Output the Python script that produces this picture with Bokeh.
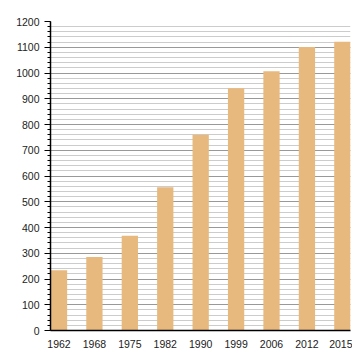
from bokeh.plotting import figure
from bokeh.models import Range1d, FixedTicker, SingleIntervalTicker, ColumnDataSource
from bokeh.embed import file_html
from bokeh.resources import INLINE

years = ["1962", "1968", "1975", "1982", "1990", "1999", "2006", "2012", "2015"]
values = [234, 285, 368, 556, 760, 941, 1007, 1101, 1121]
y_ticks_interval = 100

pos = list(range(len(years)))
src = ColumnDataSource(dict(x=pos, top=values))

p = figure(width=352, height=352, output_backend="svg", toolbar_location=None,
           x_range=Range1d(-0.24, len(years) - 1 + 0.23), y_range=Range1d(0, 1200),
           min_border_left=50, min_border_right=2, min_border_top=21, min_border_bottom=22)
p.outline_line_color = None
p.background_fill_color = "white"
p.border_fill_color = "white"

p.vbar(x="x", top="top", width=0.46, source=src, fill_color="#e8b97e", line_color=None)

# grid
p.xgrid.grid_line_color = None
p.yaxis.ticker = SingleIntervalTicker(interval=y_ticks_interval, num_minor_ticks=5)
p.ygrid.ticker = p.yaxis.ticker
p.ygrid.grid_line_color = "#999999"
p.ygrid.grid_line_width = 1
p.ygrid.minor_grid_line_color = "#cccccc"
p.ygrid.minor_grid_line_width = 1

# y axis
p.yaxis.axis_line_color = "black"
p.yaxis.axis_line_width = 1.5
p.yaxis.major_tick_line_color = "black"
p.yaxis.major_tick_out = 6
p.yaxis.major_tick_in = 0
p.yaxis.minor_tick_line_color = "black"
p.yaxis.minor_tick_out = 3
p.yaxis.minor_tick_in = 0
p.yaxis.major_label_text_font = "Liberation Sans"
p.yaxis.major_label_text_font_size = "10.5px"
p.yaxis.major_label_text_color = "#222222"
p.yaxis.major_label_standoff = 5

# x axis
p.xaxis.ticker = FixedTicker(ticks=pos)
p.xaxis.major_label_overrides = {i: y for i, y in enumerate(years)}
p.xaxis.axis_line_color = "black"
p.xaxis.axis_line_width = 1.5
p.xaxis.major_tick_line_color = None
p.xaxis.minor_tick_line_color = None
p.xaxis.major_label_text_font = "Liberation Sans"
p.xaxis.major_label_text_font_size = "10.5px"
p.xaxis.major_label_text_color = "#222222"
p.xaxis.major_label_standoff = 3

open("out.html", "w").write(file_html(p, INLINE))
